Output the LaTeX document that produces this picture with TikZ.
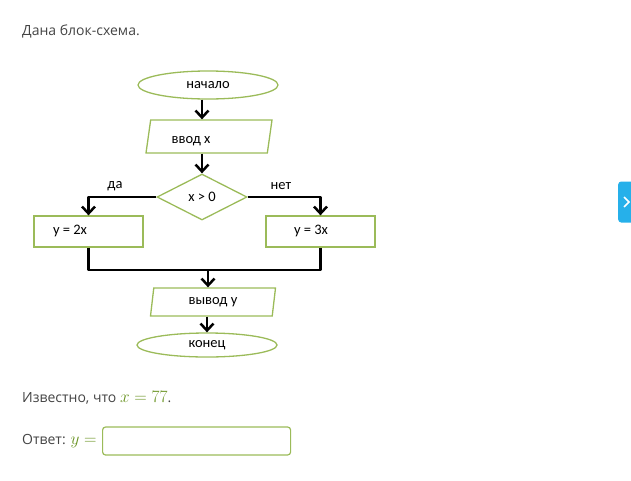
\documentclass[tikz,border=0pt]{standalone}
\usepackage{fontspec}
\setmainfont{Open Sans}
\newfontfamily\chartfont{Carlito}
\usetikzlibrary{positioning,arrows.meta,shapes.geometric}
\definecolor{shapegreen}{RGB}{155,187,89}
\definecolor{mathgreen}{RGB}{104,146,32}
\definecolor{prosegray}{RGB}{68,68,68}
\definecolor{tabblue}{RGB}{38,176,234}

\begin{document}
\begin{tikzpicture}[
    x=1pt, y=-1pt,
    term/.style={
        draw=shapegreen,
        line width=1.3pt,
        ellipse,
        minimum width=140pt,
        minimum height=28pt,
        inner sep=0pt,
        font=\chartfont\fontsize{14.5}{16}\selectfont
    },
    io/.style={
        draw=shapegreen,
        line width=1.3pt,
        trapezium,
        trapezium left angle=78,
        trapezium right angle=102,
        trapezium stretches body=true,
        minimum width=126pt,
        minimum height=33pt,
        inner sep=3pt,
        font=\chartfont\fontsize{14.5}{16}\selectfont
    },
    decision/.style={
        draw=shapegreen,
        line width=1.3pt,
        diamond,
        minimum width=90pt,
        minimum height=46pt,
        inner sep=0pt,
        font=\chartfont\fontsize{14.5}{16}\selectfont
    },
    proc/.style={
        draw=shapegreen,
        line width=1.3pt,
        minimum width=109pt,
        minimum height=31pt,
        inner sep=0pt
    },
    lbl/.style={
        inner sep=0pt,
        font=\chartfont\fontsize{14.5}{16}\selectfont
    },
    prose/.style={
        anchor=west,
        inner sep=0pt,
        text=prosegray,
        font=\fontsize{14}{17}\selectfont
    },
    mathtxt/.style={
        text=mathgreen,
        font=\fontsize{17}{20}\selectfont
    },
    arr/.style={
        -{Straight Barb[length=7pt,width=13pt]},
        line width=2.5pt
    },
    wire/.style={
        line width=2.5pt,
        line join=round
    }
]
\useasboundingbox (0,0) rectangle (631,480);

% ---------------- Task text ----------------
\node[prose] (intro) at (22,31) {Дана блок-схема.};

% ---------------- Flow chart ----------------
\node[term] (start) at (208,85) {начало};
\node[io] (inp) at (209,136.5) {\strut};
\node[lbl] (inptext) at (191,141) {ввод x};
\node[decision] (cond) at (202,197) {x > 0};
\node[proc] (yes) at (88.5,231.5) {};
\node[lbl] (yestext) at (70,231) {y = 2x};
\node[proc] (no) at (320.5,231.5) {};
\node[lbl] (notext) at (311,231) {y = 3x};
\node[io, minimum width=125pt, minimum height=28pt] (out) at (213,302) {вывод y};
\node[term, minimum height=24pt] (finish) at (207,345) {конец};

\node[lbl] (yeslbl) at (115,186) {да};
\node[lbl] (nolbl) at (281,186) {нет};

\coordinate (join) at (208,270);

\draw[arr] (start.south -| cond) -- (inp.north -| cond);
\draw[arr] (inp.south -| cond) -- (cond.north);
\draw[arr, line join=round] (cond.west) -| (yes.north);
\draw[arr, line join=round] (cond.east) -| (no.north);
\draw[wire] (yes.south) |- (join) -| (no.south);
\draw[arr] (join) -- (join |- out.north);
\draw[arr] (out.south -| finish) -- (finish.north);

% ---------------- Question ----------------
\node[prose] (given) at (22,398)
    {Известно, что {\fontsize{17}{20}\selectfont\color{mathgreen}$x=77$}.};
\node[prose] (ask) at (22,441)
    {Ответ: {\fontsize{17}{20}\selectfont\color{mathgreen}$y=$}};
\node[
    draw=shapegreen,
    line width=1.2pt,
    rounded corners=3pt,
    minimum width=188pt,
    minimum height=28pt,
    anchor=west
] (answer) at (102,441) {};

% ---------------- Side tab ----------------
\node[
    fill=tabblue,
    rounded corners=3pt,
    minimum width=26pt,
    minimum height=41pt,
    anchor=west
] (tab) at (618,202) {};
\draw[white, line width=1.5pt]
    ([shift={(6,-5)}]tab.west) -- ([shift={(11,0)}]tab.west) -- ([shift={(6,5)}]tab.west);

\end{tikzpicture}
\end{document}
